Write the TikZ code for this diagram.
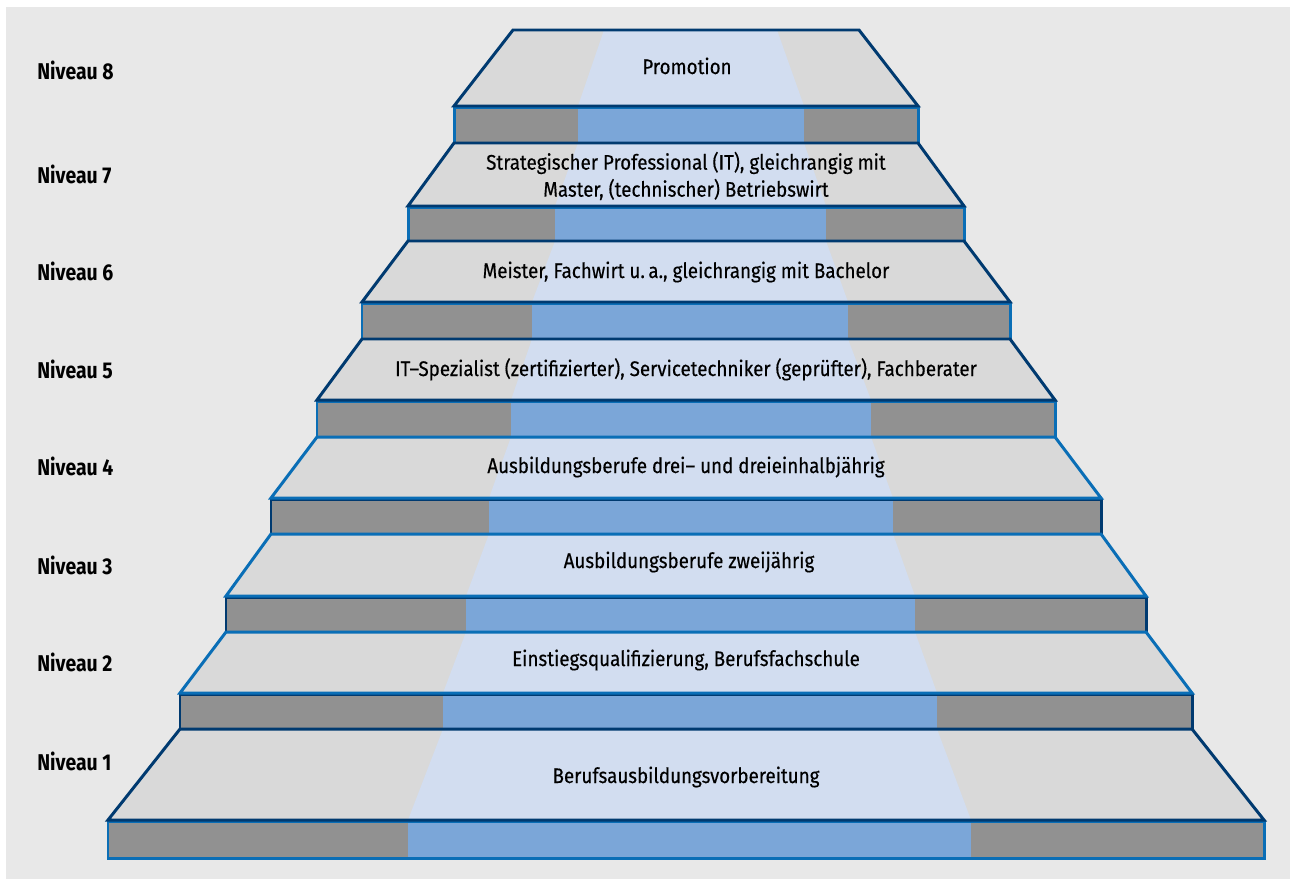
\documentclass[tikz,border=0pt]{standalone}
\usepackage{fontspec}
\setmainfont{Fira Sans}[FakeStretch=0.85]
\newfontfamily\stufenfont{Fira Sans}[FakeStretch=0.89, FakeBold=0.3]
\usepackage{tikz}
\usetikzlibrary{positioning}

\definecolor{bggray}{HTML}{E8E8E8}
\definecolor{topgray}{HTML}{D9D9D9}
\definecolor{topblue}{HTML}{D2DDF0}
\definecolor{boxgray}{HTML}{919191}
\definecolor{boxblue}{HTML}{7BA6D8}
\definecolor{navy}{HTML}{003A70}
\definecolor{midblue}{HTML}{0A6EB6}

\tikzset{
  kante/.style={line width=1.7pt, line join=miter},
  niveau/.style={anchor=base west, inner sep=0pt, font=\bfseries\fontsize{13}{15}\selectfont},
  stufe/.style={anchor=base, inner sep=0pt, align=center, font=\stufenfont\fontsize{12}{15.4}\selectfont},
}

\begin{document}
\begin{tikzpicture}[x=0.02cm, y=-0.02cm]
% Hintergrund
\fill[white] (0,0) rectangle (1290,879);
\fill[bggray] (6,7) rectangle (1290,879);

% Stufen (von oben nach unten)
\foreach \yt/\xt/\yb/\xb/\yc/\la/\ra/\lb/\rb/\ct/\cb in {
  30/513/106/454/143/604/777/578/804/navy/midblue,
  143/454/206/408/241/578/804/555/826/navy/midblue,
  241/408/302/362/339/555/826/532/848/navy/midblue,
  339/362/400/317/437/532/848/511/871/navy/midblue,
  437/317/498/271/534/511/871/489/893/midblue/navy,
  534/271/596/226/632/489/893/466/915/midblue/navy,
  632/226/693/180/729/466/915/443/937/midblue/navy,
  729/180/820/108/858/443/937/408/971/navy/midblue}
{
  \fill[boxgray] (\xb,\yb) rectangle (1372-\xb,\yc);
  \fill[boxblue] (\lb,\yb) rectangle (\rb,\yc);
  \draw[kante,\cb] (\xb,\yb+1.5) rectangle (1372-\xb,\yc);
  \fill[topgray] (\xt,\yt) -- (1372-\xt,\yt) -- (1372-\xb,\yb) -- (\xb,\yb) -- cycle;
  \fill[topblue] (\la,\yt) -- (\ra,\yt) -- (\rb,\yb) -- (\lb,\yb) -- cycle;
  \draw[kante,\ct] (\xt,\yt) -- (1372-\xt,\yt) -- (1372-\xb,\yb) -- (\xb,\yb) -- cycle;
}

% Niveaus
\node[niveau] (n8) at (37,79) {Niveau 8};
\node[niveau] (n7) at (37,183) {Niveau 7};
\node[niveau] (n6) at (37,280) {Niveau 6};
\node[niveau] (n5) at (37,378) {Niveau 5};
\node[niveau] (n4) at (37,475) {Niveau 4};
\node[niveau] (n3) at (37,574) {Niveau 3};
\node[niveau] (n2) at (37,671) {Niveau 2};
\node[niveau] (n1) at (37,770) {Niveau 1};

% Abschluesse
\node[stufe] (s8) at (687,74) {Promotion};
\node[stufe, anchor=center] (s7) at (686,176) {Strategischer Professional (IT), gleichrangig mit\\Master, (technischer) Betriebswirt};
\node[stufe] (s6) at (686,278) {Meister, Fachwirt u.\,a., gleichrangig mit Bachelor};
\node[stufe] (s5) at (686,376) {IT–Spezialist (zertifizierter), Servicetechniker (geprüfter), Fachberater};
\node[stufe] (s4) at (686,473) {Ausbildungsberufe drei– und dreieinhalbjährig};
\node[stufe] (s3) at (689,568) {Ausbildungsberufe zweijährig};
\node[stufe] (s2) at (686,666) {Einstiegsqualifizierung, Berufsfachschule};
\node[stufe] (s1) at (686,783) {Berufsausbildungsvorbereitung};

\end{tikzpicture}
\end{document}
